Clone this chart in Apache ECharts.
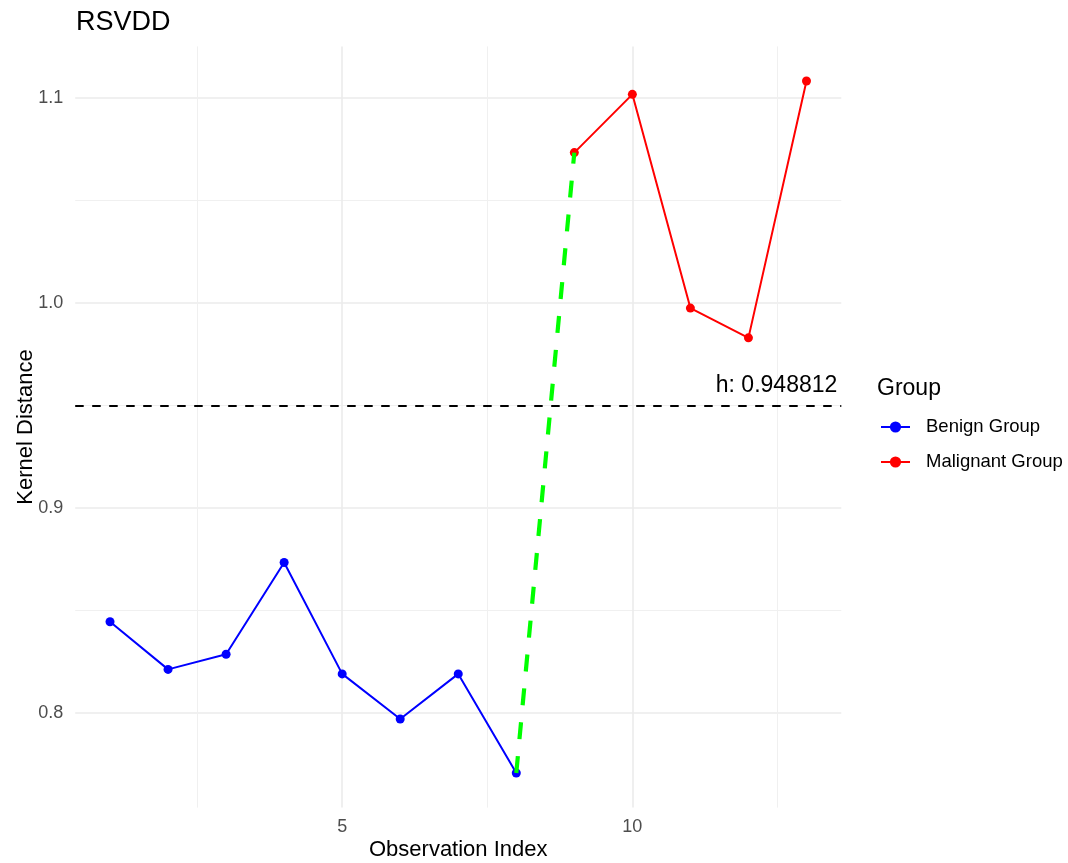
<!DOCTYPE html>
<html lang="en">
<head>
<meta charset="UTF-8">
<title>RSVDD</title>
<script src="https://cdn.jsdelivr.net/npm/echarts@6/dist/echarts.min.js"></script>
<style>html,body{margin:0;padding:0;background:#fff}</style>
</head>
<body>
<div id="main" style="width:1068px;height:863px;"></div>
<script>
// observations per group
const benignX = [1, 2, 3, 4, 5, 6, 7, 8]
const benignY = [0.8445, 0.8213, 0.8287, 0.8734, 0.8191, 0.7971, 0.8191, 0.7708]
const malignantX = [9, 10, 11, 12, 13]
const malignantY = [1.0732, 1.1016, 0.9974, 0.9829, 1.1081]
const threshold = 0.948812
// gridline positions
const xMajorTicks = [5, 10]
const xMinorTicks = [2.5, 7.5, 12.5]
const yMajorTicks = [0.8, 0.9, 1.0, 1.1]
const yMinorTicks = [0.85, 0.95, 1.05]

const W = 1068, H = 863
const FONT = 'Liberation Sans, Arial, sans-serif'
// panel rectangle in pixels
const panel = { left: 75.2, right: 841.3, top: 46.4, bottom: 807.6 }

// ggplot style 5% expansion of the data range
function expand(vals) {
    const lo = Math.min(...vals), hi = Math.max(...vals)
    const pad = (hi - lo) * 0.05
    return [lo - pad, hi + pad]
}
const [xMin, xMax] = expand(benignX.concat(malignantX))
const [yMin, yMax] = expand(benignY.concat(malignantY))

function xpx(v) { return panel.left + (v - xMin) / (xMax - xMin) * (panel.right - panel.left) }
function ypx(v) { return panel.bottom - (v - yMin) / (yMax - yMin) * (panel.bottom - panel.top) }

function pairs(xs, ys) { return xs.map((x, i) => [x, ys[i]]) }

const hidden = { show: false }
const tickText = { color: '#4D4D4D', fontSize: 18, fontFamily: FONT }

// one grid per gridline family so each one lines up with the data panel
function rect(left, right, top, bottom) {
    return { left: left, right: W - right, top: top, bottom: H - bottom, outerBoundsMode: 'none', containLabel: false }
}
function xGrid(ticks) {
    return rect(xpx(ticks[0]), xpx(ticks[ticks.length - 1]), panel.top, panel.bottom)
}
function yGrid(ticks) {
    return rect(panel.left, panel.right, ypx(ticks[ticks.length - 1]), ypx(ticks[0]))
}

const myChart = echarts.init(document.getElementById('main'), null, { renderer: 'canvas' })
const option = {
    backgroundColor: '#fff',
    animation: false,
    textStyle: { fontFamily: FONT },
    title: [
        { text: 'RSVDD', left: 76, top: 9, padding: 0, textStyle: { fontSize: 27, fontWeight: 'normal', color: '#000', fontFamily: FONT } },
        { text: 'Group', left: 877, top: 377, padding: 0, textStyle: { fontSize: 23, fontWeight: 'normal', color: '#000', fontFamily: FONT } }
    ],
    legend: {
        data: ['Benign Group', 'Malignant Group'],
        orient: 'vertical',
        left: 880,
        top: 417.5,
        padding: 0,
        itemWidth: 29,
        itemHeight: 14,
        itemGap: 16,
        textStyle: { fontSize: 18.5, color: '#000', fontFamily: FONT, padding: [0, 0, 0, 11] }
    },
    grid: [
        rect(panel.left, panel.right, panel.top, panel.bottom),
        xGrid(xMajorTicks),
        xGrid(xMinorTicks),
        yGrid(yMajorTicks),
        yGrid(yMinorTicks)
    ],
    xAxis: [
        {
            gridIndex: 0, type: 'value', min: xMin, max: xMax,
            axisLine: hidden, axisTick: hidden, axisLabel: hidden, splitLine: hidden,
            name: 'Observation Index', nameLocation: 'middle', nameGap: 31,
            nameTextStyle: { fontSize: 22, color: '#000', fontFamily: FONT }
        },
        {
            gridIndex: 1, type: 'value', min: xMajorTicks[0], max: xMajorTicks[xMajorTicks.length - 1],
            interval: xMajorTicks[1] - xMajorTicks[0],
            axisLine: hidden, axisTick: hidden,
            axisLabel: Object.assign({ margin: 10, showMinLabel: true, showMaxLabel: true }, tickText),
            splitLine: { show: true, lineStyle: { color: '#EBEBEB', width: 1.6 } }
        },
        {
            gridIndex: 2, type: 'value', min: xMinorTicks[0], max: xMinorTicks[xMinorTicks.length - 1],
            interval: xMinorTicks[1] - xMinorTicks[0],
            axisLine: hidden, axisTick: hidden, axisLabel: hidden,
            splitLine: { show: true, lineStyle: { color: '#F0F0F0', width: 1 } }
        },
        { gridIndex: 3, type: 'value', min: 0, max: 1, show: false },
        { gridIndex: 4, type: 'value', min: 0, max: 1, show: false }
    ],
    yAxis: [
        {
            gridIndex: 0, type: 'value', min: yMin, max: yMax,
            axisLine: hidden, axisTick: hidden, axisLabel: hidden, splitLine: hidden,
            name: 'Kernel Distance', nameLocation: 'middle', nameGap: 38,
            nameTextStyle: { fontSize: 22, color: '#000', fontFamily: FONT }
        },
        { gridIndex: 1, type: 'value', min: 0, max: 1, show: false },
        { gridIndex: 2, type: 'value', min: 0, max: 1, show: false },
        {
            gridIndex: 3, type: 'value', min: yMajorTicks[0], max: yMajorTicks[yMajorTicks.length - 1],
            interval: 0.1,
            axisLine: hidden, axisTick: hidden,
            axisLabel: Object.assign({ margin: 12, showMinLabel: true, showMaxLabel: true, formatter: v => v.toFixed(1) }, tickText),
            splitLine: { show: true, lineStyle: { color: '#EBEBEB', width: 1.6 } }
        },
        {
            gridIndex: 4, type: 'value', min: yMinorTicks[0], max: yMinorTicks[yMinorTicks.length - 1],
            interval: 0.1,
            axisLine: hidden, axisTick: hidden, axisLabel: hidden,
            splitLine: { show: true, lineStyle: { color: '#F0F0F0', width: 1 } }
        }
    ],
    series: [
        {
            name: 'Benign Group', type: 'line', xAxisIndex: 0, yAxisIndex: 0,
            data: pairs(benignX, benignY),
            symbol: 'circle', symbolSize: 9,
            itemStyle: { color: '#0000FF' },
            lineStyle: { color: '#0000FF', width: 2 },
            z: 3,
            markLine: {
                silent: true, symbol: 'none',
                data: [{ yAxis: threshold }],
                lineStyle: { color: '#000', type: [8.5, 8.5], width: 2.2 },
                label: {
                    position: 'insideEndTop', formatter: 'h: ' + threshold,
                    fontSize: 23, color: '#000', fontFamily: FONT, distance: [4, 8]
                }
            }
        },
        {
            name: 'Malignant Group', type: 'line', xAxisIndex: 0, yAxisIndex: 0,
            data: pairs(malignantX, malignantY),
            symbol: 'circle', symbolSize: 9,
            itemStyle: { color: '#FF0000' },
            lineStyle: { color: '#FF0000', width: 2 },
            z: 3
        },
        {
            name: 'link', type: 'line', xAxisIndex: 0, yAxisIndex: 0,
            data: [
                [benignX[benignX.length - 1], benignY[benignY.length - 1]],
                [malignantX[0], malignantY[0]]
            ],
            showSymbol: false, symbol: 'none',
            lineStyle: { color: '#00FF00', width: 4.2, type: [17, 17] },
            z: 4
        }
    ]
}
myChart.setOption(option)
</script>
</body>
</html>
